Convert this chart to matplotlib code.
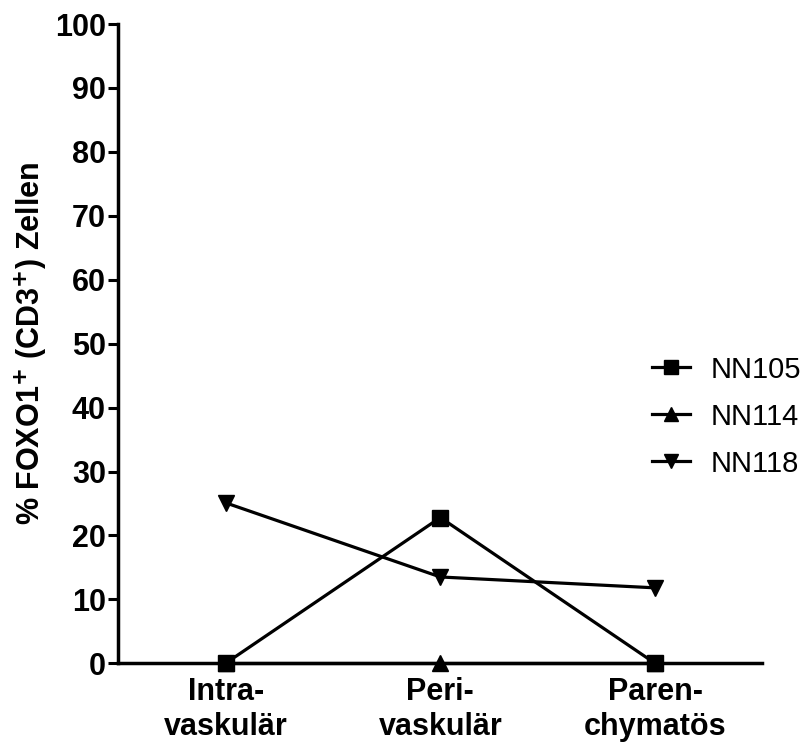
import matplotlib
matplotlib.use("Agg")
import matplotlib.pyplot as plt

categories = ["Intra-\nvaskulär", "Peri-\nvaskulär", "Paren-\nchymatös"]
series_names = ["NN105", "NN114", "NN118"]
nn105 = [0.0, 22.8, 0.0]
nn114 = [0.0, 0.0, 0.0]
nn118 = [25.1, 13.5, 11.8]
y_ticks = [0, 10, 20, 30, 40, 50, 60, 70, 80, 90, 100]

plt.rcParams['font.family'] = ['Liberation Sans', 'DejaVu Sans']

fig = plt.figure(figsize=(8.05, 7.52), dpi=100)
ax = fig.add_axes([0.147, 0.118, 0.8, 0.85])

x = list(range(len(categories)))
markers = ["s", "^", "v"]
zorders = [5, 3, 4]
for name, vals, mk, z in zip(series_names, [nn105, nn114, nn118], markers, zorders):
    ax.plot(x, vals, color="black", lw=2.3, marker=mk, markersize=11,
            label=name, clip_on=False, zorder=z)

ax.set_xlim(-0.5, 2.5)
ax.set_ylim(0, 100)
ax.set_yticks(y_ticks)
ax.set_xticks(x)
ax.set_xticklabels(categories, fontsize=22, fontweight="bold")
ax.tick_params(axis="y", labelsize=22, width=2.2, length=7, pad=2)
ax.tick_params(axis="x", width=2.2, length=5, pad=5)
for lab in ax.get_yticklabels():
    lab.set_fontweight("bold")

for side in ["top", "right"]:
    ax.spines[side].set_visible(False)
for side in ["left", "bottom"]:
    ax.spines[side].set_linewidth(2.5)

ax.set_ylabel("% FOXO1$^\\mathbf{+}$ (CD3$^\\mathbf{+}$) Zellen", fontsize=22,
              fontweight="bold", labelpad=4)

# legend sits to the right, level with the 40 % tick
leg = ax.legend(loc="center left", bbox_to_anchor=(0.81, 0.446),
                bbox_transform=fig.transFigure, frameon=False, fontsize=21,
                handlelength=1.3, labelspacing=0.65, handletextpad=0.7,
                borderpad=0, borderaxespad=0)
for h in leg.legend_handles:
    h.set_markersize(10)

fig.savefig("out.png", dpi=100)
